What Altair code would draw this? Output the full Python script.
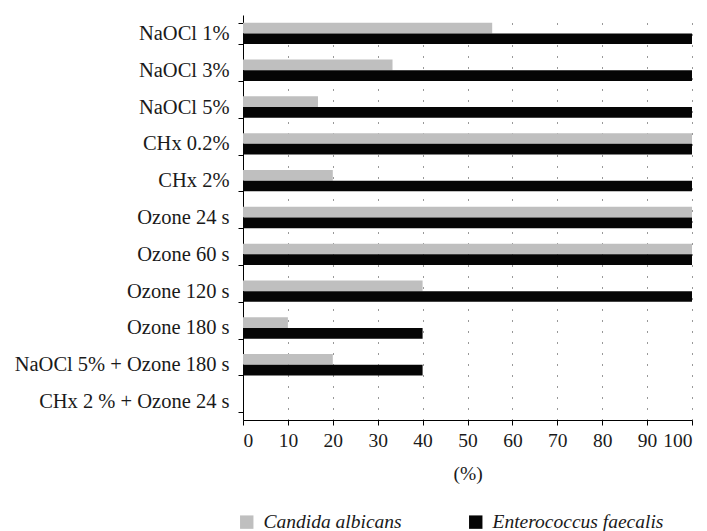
import altair as alt
import pandas as pd

categories = ["NaOCl 1%", "NaOCl 3%", "NaOCl 5%", "CHx 0.2%", "CHx 2%",
              "Ozone 24 s", "Ozone 60 s", "Ozone 120 s", "Ozone 180 s",
              "NaOCl 5% + Ozone 180 s", "CHx 2 % + Ozone 24 s"]
candida = [55.5, 33.3, 16.7, 100, 20, 100, 100, 40, 10, 20, 0]
enterococcus = [100, 100, 100, 100, 100, 100, 100, 100, 40, 40, 0]
series = ["Candida albicans", "Enterococcus faecalis"]
colors = ["#bfbfbf", "#050505"]

rows = []
for c, a, e in zip(categories, candida, enterococcus):
    rows.append({"cat": c, "series": series[0], "value": a})
    rows.append({"cat": c, "series": series[1], "value": e})
df = pd.DataFrame(rows)

FONT = "Liberation Serif"

chart = alt.Chart(df).mark_bar().encode(
    y=alt.Y("cat:N", sort=categories,
            scale=alt.Scale(paddingInner=0.42, paddingOuter=0.21),
            axis=alt.Axis(title=None, tickBand="extent", tickSize=5,
                          labelPadding=9, labelFontSize=20.5, labelFont=FONT,
                          labelColor="#1a1a1a", domainColor="#000", tickColor="#000",
                          grid=False, labelLimit=400)),
    yOffset=alt.YOffset("series:N", sort=series),
    x=alt.X("value:Q", scale=alt.Scale(domain=[0, 100]),
            axis=alt.Axis(title="(%)", values=list(range(0, 101, 10)),
                          tickSize=5, labelPadding=6, labelFontSize=19.5,
                          labelFont=FONT, labelColor="#1a1a1a",
                          titleFont=FONT, titleFontSize=19.5,
                          titleFontWeight="normal", titleColor="#1a1a1a",
                          titlePadding=15, domainColor="#000", tickColor="#000",
                          grid=True, gridColor="#333", gridDash=[1, 10],
                          gridWidth=1)),
    color=alt.Color("series:N", sort=series,
                    scale=alt.Scale(domain=series, range=colors),
                    legend=alt.Legend(title=None, orient="none", direction="horizontal",
                                      legendX=-6, legendY=497,
                                      symbolType="square", symbolSize=180,
                                      symbolStrokeWidth=0,
                                      labelFont=FONT, labelFontSize=19.5,
                                      labelFontStyle="italic", labelColor="#1a1a1a",
                                      labelLimit=300,
                                      columnPadding=64, labelOffset=7)),
).properties(
    width=449, height=405,
    autosize=alt.AutoSizeParams(type="none"),
    padding={"left": 235, "top": 7, "right": 7, "bottom": 115},
).configure_view(stroke=None).configure_axis(domainWidth=1, tickWidth=1)

chart.save("out.html", embed_options={"renderer": "svg", "actions": False})
